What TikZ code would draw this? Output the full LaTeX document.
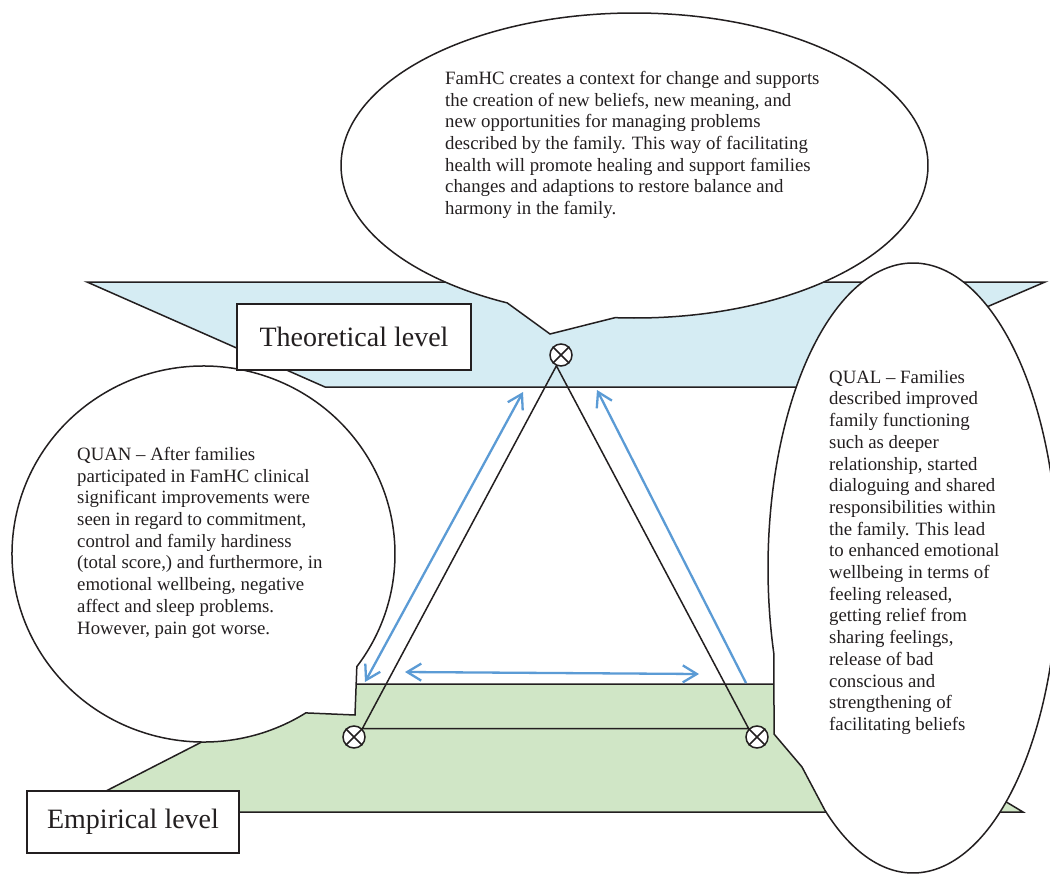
\documentclass[tikz,border=0pt]{standalone}
\usepackage{fontspec}
\setmainfont{Liberation Serif}
\usetikzlibrary{arrows.meta,calc}
\definecolor{bandblue}{RGB}{213,236,243}
\definecolor{bandgreen}{RGB}{208,230,198}
\definecolor{arrowblue}{RGB}{91,155,213}
\definecolor{ink}{RGB}{35,31,32}
\tikzset{btip/.tip={Straight Barb[length=14pt,width=17pt]}}
\begin{document}
\begin{tikzpicture}[x=1pt,y=-1pt,
  outline/.style={draw=ink,line width=1.5pt,line join=miter},
  callout/.style={outline,fill=white},
  bodytext/.style={anchor=north west,inner sep=0pt,align=left,text=ink,font=\fontsize{18.8}{21.7}\selectfont},
  levelbox/.style={draw=ink,line width=1.5pt,fill=white,inner sep=0pt,text=ink,font=\fontsize{28}{32}\selectfont},
  xnode/.style={circle,draw=ink,line width=1.5pt,fill=white,minimum size=22pt,inner sep=0pt},
  barrow/.style={draw=arrowblue,line width=2.3pt}
]
\useasboundingbox (0,0) rectangle (1050,875);
\fill[white] (0,0) rectangle (1050,875);

% bands
\path[outline,fill=bandblue] (87,282) -- (1045,282) -- (800,387) -- (325,387) -- cycle;
\path[outline,fill=bandgreen] (315,684) -- (810,684) -- (1023,812) -- (65,812) -- cycle;

% callouts
\path[callout] ([shift={(634.5,165.5)}]93.8:293.5 and 152.5)
  arc[start angle=93.8,end angle=-244.3,x radius=293.5,y radius=152.5]
  -- (550,334) -- cycle;
\path[callout] ([shift={(203.5,554)}]57.7:191.5 and 188)
  arc[start angle=57.7,end angle=396.8,x radius=191.5,y radius=188]
  -- (355,715) -- cycle;
\path[callout] ([shift={(913,568)}]127.5:145 and 305)
  arc[start angle=127.5,end angle=-196.5,x radius=145,y radius=305]
  -- (774,734) -- (802,767) -- cycle;

% level boxes
\node[levelbox,minimum width=234pt,minimum height=66pt] (theo) at (354,337) {Theoretical level};
\node[levelbox,minimum width=212pt,minimum height=62pt] (emp) at (133,822) {Empirical level};

% markers
\node[xnode] (tp) at (561,355) {};
\node[xnode] (bl) at (354,737) {};
\node[xnode] (br) at (757,737) {};
\foreach \n in {tp,bl,br}
  \draw[ink,line width=1.5pt] (\n.45) -- (\n.225) (\n.135) -- (\n.315);

% triangle
\draw[outline] (tp.247) -- (bl.45) -- (br.135) -- cycle;

% blue arrows
\coordinate (la1) at (523,392);
\coordinate (la2) at (365,682);
\coordinate (ra1) at (746,683);
\coordinate (ra2) at (597,390);
\coordinate (ha1) at (405,672);
\coordinate (ha2) at (699,674);
\draw[barrow,{btip}-{btip}] (la1) -- (la2);
\draw[barrow,-{btip}] (ra1) -- (ra2);
\draw[barrow,{btip}-{btip}] (ha1) -- (ha2);

% texts
\node[bodytext] (toptext) at (445,71) {FamHC creates a context for change and supports\\
the creation of new beliefs, new meaning, and\\
new opportunities for managing problems\\
described by the family. This way of facilitating\\
health will promote healing and support families\\
changes and adaptions to restore balance and\\
harmony in the family.};
\node[bodytext] (quan) at (77,447) {QUAN -- After families\\
participated in FamHC clinical\\
significant improvements were\\
seen in regard to commitment,\\
control and family hardiness\\
(total score,) and furthermore, in\\
emotional wellbeing, negative\\
affect and sleep problems.\\
However, pain got worse.};
\node[bodytext] (qual) at (829,370) {QUAL -- Families\\
described improved\\
family functioning\\
such as deeper\\
relationship, started\\
dialoguing and shared\\
responsibilities within\\
the family. This lead\\
to enhanced emotional\\
wellbeing in terms of\\
feeling released,\\
getting relief from\\
sharing feelings,\\
release of bad\\
conscious and\\
strengthening of\\
facilitating beliefs};
\end{tikzpicture}
\end{document}
